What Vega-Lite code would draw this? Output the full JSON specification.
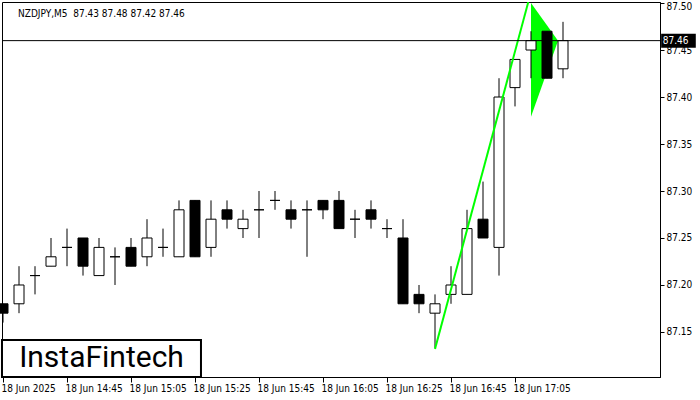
{
  "$schema": "https://vega.github.io/schema/vega-lite/v6.json",
  "width": 658,
  "height": 375,
  "autosize": {"type": "none"},
  "padding": {"left": 2, "top": 2, "right": 40, "bottom": 23},
  "background": "white",
  "view": {"stroke": "black", "strokeWidth": 1},
  "config": {
    "font": "DejaVu Sans Condensed",
    "axis": {"labelFont": "DejaVu Sans Condensed", "labelFontSize": 10, "labelColor": "black", "domainColor": "black", "tickColor": "black", "grid": false, "title": null, "labelFlush": false, "labelOverlap": false}
  },
  "title": {
    "text": "NZDJPY,M5\u00a0 87.43 87.48 87.42 87.46",
    "anchor": "start",
    "frame": "group",
    "orient": "top",
    "offset": -23,
    "dx": 16,
    "baseline": "middle",
    "font": "DejaVu Sans Condensed",
    "fontSize": 10,
    "fontWeight": "normal",
    "color": "black"
  },
  "datasets": {
    "candles": [
      {"t": "2025-06-18T14:25:00Z", "o": 87.18, "h": 87.18, "l": 87.16, "c": 87.17},
      {"t": "2025-06-18T14:30:00Z", "o": 87.18, "h": 87.22, "l": 87.17, "c": 87.20},
      {"t": "2025-06-18T14:35:00Z", "o": 87.21, "h": 87.22, "l": 87.19, "c": 87.21},
      {"t": "2025-06-18T14:40:00Z", "o": 87.22, "h": 87.25, "l": 87.22, "c": 87.23},
      {"t": "2025-06-18T14:45:00Z", "o": 87.24, "h": 87.26, "l": 87.22, "c": 87.24},
      {"t": "2025-06-18T14:50:00Z", "o": 87.25, "h": 87.25, "l": 87.21, "c": 87.22},
      {"t": "2025-06-18T14:55:00Z", "o": 87.21, "h": 87.25, "l": 87.21, "c": 87.24},
      {"t": "2025-06-18T15:00:00Z", "o": 87.23, "h": 87.24, "l": 87.20, "c": 87.23},
      {"t": "2025-06-18T15:05:00Z", "o": 87.24, "h": 87.25, "l": 87.22, "c": 87.22},
      {"t": "2025-06-18T15:10:00Z", "o": 87.23, "h": 87.27, "l": 87.22, "c": 87.25},
      {"t": "2025-06-18T15:15:00Z", "o": 87.24, "h": 87.26, "l": 87.23, "c": 87.24},
      {"t": "2025-06-18T15:20:00Z", "o": 87.23, "h": 87.29, "l": 87.23, "c": 87.28},
      {"t": "2025-06-18T15:25:00Z", "o": 87.29, "h": 87.29, "l": 87.23, "c": 87.23},
      {"t": "2025-06-18T15:30:00Z", "o": 87.24, "h": 87.29, "l": 87.23, "c": 87.27},
      {"t": "2025-06-18T15:35:00Z", "o": 87.28, "h": 87.29, "l": 87.26, "c": 87.27},
      {"t": "2025-06-18T15:40:00Z", "o": 87.26, "h": 87.28, "l": 87.25, "c": 87.27},
      {"t": "2025-06-18T15:45:00Z", "o": 87.28, "h": 87.30, "l": 87.25, "c": 87.28},
      {"t": "2025-06-18T15:50:00Z", "o": 87.29, "h": 87.30, "l": 87.28, "c": 87.29},
      {"t": "2025-06-18T15:55:00Z", "o": 87.28, "h": 87.29, "l": 87.26, "c": 87.27},
      {"t": "2025-06-18T16:00:00Z", "o": 87.28, "h": 87.29, "l": 87.23, "c": 87.28},
      {"t": "2025-06-18T16:05:00Z", "o": 87.29, "h": 87.29, "l": 87.27, "c": 87.28},
      {"t": "2025-06-18T16:10:00Z", "o": 87.29, "h": 87.30, "l": 87.26, "c": 87.26},
      {"t": "2025-06-18T16:15:00Z", "o": 87.27, "h": 87.28, "l": 87.25, "c": 87.27},
      {"t": "2025-06-18T16:20:00Z", "o": 87.28, "h": 87.29, "l": 87.26, "c": 87.27},
      {"t": "2025-06-18T16:25:00Z", "o": 87.26, "h": 87.27, "l": 87.25, "c": 87.26},
      {"t": "2025-06-18T16:30:00Z", "o": 87.25, "h": 87.27, "l": 87.18, "c": 87.18},
      {"t": "2025-06-18T16:35:00Z", "o": 87.19, "h": 87.20, "l": 87.17, "c": 87.18},
      {"t": "2025-06-18T16:40:00Z", "o": 87.17, "h": 87.19, "l": 87.133, "c": 87.18},
      {"t": "2025-06-18T16:45:00Z", "o": 87.19, "h": 87.22, "l": 87.18, "c": 87.20},
      {"t": "2025-06-18T16:50:00Z", "o": 87.19, "h": 87.28, "l": 87.19, "c": 87.26},
      {"t": "2025-06-18T16:55:00Z", "o": 87.27, "h": 87.31, "l": 87.25, "c": 87.25},
      {"t": "2025-06-18T17:00:00Z", "o": 87.24, "h": 87.42, "l": 87.21, "c": 87.40},
      {"t": "2025-06-18T17:05:00Z", "o": 87.41, "h": 87.44, "l": 87.39, "c": 87.44},
      {"t": "2025-06-18T17:10:00Z", "o": 87.45, "h": 87.47, "l": 87.42, "c": 87.46},
      {"t": "2025-06-18T17:15:00Z", "o": 87.47, "h": 87.47, "l": 87.42, "c": 87.42},
      {"t": "2025-06-18T17:20:00Z", "o": 87.43, "h": 87.48, "l": 87.42, "c": 87.46}
    ],
    "flag": [
      {"t": "2025-06-18T17:10:00Z", "lo": 87.379, "hi": 87.50},
      {"t": "2025-06-18T17:18:27Z", "lo": 87.46, "hi": 87.46}
    ],
    "pole": [
      {"t": "2025-06-18T16:40:00Z", "p": 87.132},
      {"t": "2025-06-18T17:09:09Z", "p": 87.501}
    ],
    "price": [{"p": 87.46, "label": "87.46", "t1": "2025-06-18T17:50:40Z", "t2": "2025-06-18T18:01:30Z", "tm": "2025-06-18T17:51:10Z"}],
    "logo": [{"t1": "2025-06-18T14:24:41Z", "t2": "2025-06-18T15:26:52Z", "tm": "2025-06-18T14:55:47Z", "y1": 87.1021, "y2": 87.1415, "ym": 87.122, "label": "InstaFintech"}]
  },
  "encoding": {
    "x": {
      "field": "t",
      "type": "temporal",
      "scale": {"type": "utc", "domain": [1750256681250, 1750269018750], "padding": 0, "nice": false},
      "axis": {
        "orient": "bottom",
        "values": [1750256700000, 1750257900000, 1750259100000, 1750260300000, 1750261500000, 1750262700000, 1750263900000, 1750265100000, 1750266300000],
        "labelExpr": "datum.index == 0 ? '18 Jun 2025' : utcFormat(datum.value, '%d %b %H:%M')",
        "labelAlign": "left",
        "labelBaseline": "top",
        "labelPadding": 1,
        "tickSize": 5,
        "labelOffset": -2
      }
    }
  },
  "layer": [
    {
      "data": {"name": "flag"},
      "mark": {"type": "area", "color": "#00ff00", "opacity": 1, "clip": true},
      "encoding": {
        "y": {"field": "lo", "type": "quantitative", "scale": {"domain": [87.1021, 87.5011], "nice": false, "zero": false, "padding": 0},
          "axis": {"orient": "right", "values": [87.15, 87.2, 87.25, 87.3, 87.35, 87.4, 87.45, 87.5], "format": ".2f", "tickSize": 4, "labelPadding": 2, "labelBaseline": "middle",
            "labelOffset": {"condition": {"test": "datum.value > 87.49", "value": 3}, "value": 0}}},
        "y2": {"field": "hi"}
      }
    },
    {
      "data": {"name": "candles"},
      "mark": {"type": "rule", "color": "black", "strokeWidth": 1},
      "encoding": {
        "y": {"field": "l", "type": "quantitative"},
        "y2": {"field": "h"}
      }
    },
    {
      "data": {"name": "candles"},
      "mark": {"type": "bar", "width": 10, "stroke": "black", "strokeWidth": 1},
      "encoding": {
        "y": {"field": "o", "type": "quantitative"},
        "y2": {"field": "c"},
        "fill": {"condition": {"test": "datum.c < datum.o", "value": "black"}, "value": "white"}
      }
    },
    {
      "data": {"name": "pole"},
      "mark": {"type": "line", "color": "#00ff00", "strokeWidth": 2, "clip": true},
      "encoding": {
        "y": {"field": "p", "type": "quantitative"}
      }
    },
    {
      "data": {"name": "price"},
      "mark": {"type": "rule", "color": "black", "strokeWidth": 1},
      "encoding": {
        "x": null,
        "y": {"field": "p", "type": "quantitative"}
      }
    },
    {
      "data": {"name": "price"},
      "mark": {"type": "rect", "color": "black", "height": 14},
      "encoding": {
        "x": {"field": "t1", "type": "temporal"},
        "x2": {"field": "t2"},
        "y": {"field": "p", "type": "quantitative"}
      }
    },
    {
      "data": {"name": "price"},
      "mark": {"type": "text", "color": "white", "align": "left", "baseline": "middle", "fontSize": 10, "font": "DejaVu Sans Condensed"},
      "encoding": {
        "x": {"field": "tm", "type": "temporal"},
        "y": {"field": "p", "type": "quantitative"},
        "text": {"field": "label"}
      }
    },
    {
      "data": {"name": "logo"},
      "mark": {"type": "rect", "fill": "white", "stroke": "black", "strokeWidth": 2},
      "encoding": {
        "x": {"field": "t1", "type": "temporal"},
        "x2": {"field": "t2"},
        "y": {"field": "y1", "type": "quantitative"},
        "y2": {"field": "y2"}
      }
    },
    {
      "data": {"name": "logo"},
      "mark": {"type": "text", "color": "black", "align": "center", "baseline": "middle", "fontSize": 30, "font": "Roboto"},
      "encoding": {
        "x": {"field": "tm", "type": "temporal"},
        "y": {"field": "ym", "type": "quantitative"},
        "text": {"field": "label"}
      }
    }
  ]
}
